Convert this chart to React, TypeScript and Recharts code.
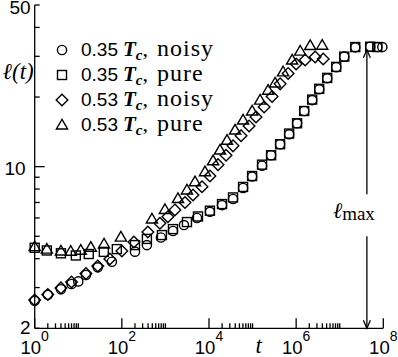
import React from 'react';
import {
  ScatterChart,
  Scatter,
  XAxis,
  YAxis,
  Legend,
  Label,
  ReferenceLine,
  ReferenceDot,
} from 'recharts';

const SANS = '"Liberation Sans", Arial, Helvetica, sans-serif';
const SERIF = '"Liberation Serif", "Times New Roman", serif';

// 0.35 Tc, noisy (circles)
const noisy035T = [1, 2, 4, 7, 10, 15, 28, 59, 200, 376, 788, 1490, 2660, 5300, 10500, 19900, 35600, 60500, 97500, 165000, 266000, 428000, 690000, 1.05e6, 1.53e6, 2.33e6, 3.38e6, 5.16e6, 8.31e6, 1.27e7, 2.27e7, 5.0e7, 7.3e7, 9.5e7];
const noisy035L = [2.63, 2.79, 2.95, 3.11, 3.19, 3.4, 3.67, 3.88, 4.29, 4.58, 4.94, 5.27, 5.59, 6.0, 6.38, 6.82, 7.25, 8.09, 9.06, 10.1, 11.2, 12.5, 13.8, 15.4, 17.4, 19.4, 21.6, 24.1, 26.9, 29.9, 32.8, 33.0, 32.9, 32.9];

// 0.35 Tc, pure (squares)
const pure035T = [1, 1.9, 4, 8.8, 17.4, 38.6, 76.7, 200, 376, 831, 1490, 3120, 5590, 10500, 19900, 35600, 60500, 97500, 165000, 266000, 428000, 690000, 1.05e6, 1.53e6, 2.33e6, 3.38e6, 5.16e6, 8.31e6, 1.27e7, 2.27e7, 5.0e7, 7.3e7];
const pure035L = [4.46, 4.34, 4.22, 4.13, 4.19, 4.28, 4.4, 4.58, 4.87, 5.06, 5.37, 5.76, 6.09, 6.45, 6.89, 7.36, 8.17, 9.11, 10.2, 11.2, 12.5, 13.9, 15.4, 17.4, 19.5, 21.7, 24.2, 27.0, 29.9, 32.9, 33.0, 32.9];

// 0.53 Tc, noisy (diamonds)
const noisy053T = [1, 2, 4, 7, 15, 28, 53, 100, 189, 396, 748, 1140, 1650, 2810, 4290, 6910, 10500, 16100, 24600, 35600, 54400, 83100, 120000, 184000, 281000, 429000, 655000, 1.0e6, 1.61e6, 2.73e6, 4.18e6];
const noisy053L = [2.65, 2.8, 2.99, 3.17, 3.45, 3.72, 3.99, 4.32, 4.72, 5.22, 5.69, 6.07, 6.5, 7.0, 7.54, 8.19, 9.11, 10.2, 11.2, 12.3, 13.6, 15.0, 16.4, 18.1, 20.1, 22.8, 25.3, 27.8, 28.9, 29.8, 29.2];

// 0.53 Tc, pure (triangles)
const pure053T = [1, 1.9, 4, 6.7, 11.4, 19.4, 39, 95, 490, 974, 1940, 3120, 4770, 8090, 12400, 17900, 25900, 39600, 60500, 97500, 149000, 227000, 329000, 502000, 809000, 1.24e6, 2.1e6, 3.96e6];
const pure053L = [4.51, 4.4, 4.32, 4.31, 4.35, 4.48, 4.63, 4.96, 5.94, 6.53, 7.28, 7.93, 8.61, 9.51, 10.6, 11.8, 13.0, 14.4, 15.9, 17.4, 19.4, 21.4, 23.0, 25.7, 28.9, 31.6, 33.4, 33.5];

const SERIES_TEMPS = ['0.35', '0.35', '0.53', '0.53'];
const SERIES_KINDS = ['noisy', 'pure', 'noisy', 'pure'];
const SERIES_MARKS = ['circle', 'square', 'diamond', 'triangle'];

const X_TICKS = [
  1, 2, 3, 4, 5, 6, 7, 8, 9, 10,
  100, 200, 300, 400, 500, 600, 700, 800, 900, 1000,
  1e4, 2e4, 3e4, 4e4, 5e4, 6e4, 7e4, 8e4, 9e4, 1e5,
  1e6, 2e6, 3e6, 4e6, 5e6, 6e6, 7e6, 8e6, 9e6, 1e7,
  1e8,
];
const X_LABELS = [1, 1e2, 1e4, 1e6, 1e8];
const Y_TICKS = [2, 3, 4, 5, 6, 7, 8, 9, 10, 20, 30, 40, 50];
const Y_LABELS = [2, 10, 50];

const L_MAX = 32;
const L_MAX_T = 4.2e7;

const toPoints = (t: number[], l: number[]) => t.map((v, i) => ({ t: v, l: l[i] }));

const MARK_STYLE = { fill: 'none', stroke: '#000', strokeWidth: 1.4 };

function Mark({ kind, cx, cy }: { kind: string; cx: number; cy: number }) {
  if (kind === 'circle') return <circle cx={cx} cy={cy} r={4.6} {...MARK_STYLE} />;
  if (kind === 'square') return <rect x={cx - 4.5} y={cy - 4.5} width={9} height={9} {...MARK_STYLE} />;
  if (kind === 'diamond')
    return <path d={`M${cx},${cy - 5.8}L${cx + 5.8},${cy}L${cx},${cy + 5.8}L${cx - 5.8},${cy}Z`} {...MARK_STYLE} />;
  return <path d={`M${cx},${cy - 5.6}L${cx + 5.6},${cy + 4}L${cx - 5.6},${cy + 4}Z`} {...MARK_STYLE} />;
}

const markShape = (kind: string) => (p: any) => <Mark kind={kind} cx={p.cx} cy={p.cy} />;

function BottomTick({ x, y, payload }: any) {
  const v = payload.value;
  const big = X_LABELS.includes(v);
  return (
    <g>
      <line x1={x} x2={x} y1={y} y2={y - (big ? 10 : 5)} stroke="#000" strokeWidth={1.3} />
      {big && (
        <text x={x} y={y + 26} textAnchor="middle" fontFamily={SANS} fontSize={18.5} fill="#000">
          10
          <tspan dy={-13} fontSize={14}>{Math.round(Math.log10(v))}</tspan>
        </text>
      )}
    </g>
  );
}

function TopTick({ x, y, payload }: any) {
  const big = X_LABELS.includes(payload.value);
  return <line x1={x} x2={x} y1={y} y2={y + (big ? 10 : 5)} stroke="#000" strokeWidth={1.3} />;
}

function LeftTick({ x, y, payload }: any) {
  const v = payload.value;
  const dy = v === 2 ? 6 : v === 50 ? 9 : 8;
  return (
    <g>
      <line x1={x} x2={x + (v === 10 ? 10 : 5)} y1={y} y2={y} stroke="#000" strokeWidth={1.3} />
      {Y_LABELS.includes(v) && (
        <text x={x - (v === 10 ? 9 : 4)} y={y + dy} textAnchor="end" fontFamily={SANS} fontSize={19} fill="#000">
          {v}
        </text>
      )}
    </g>
  );
}

function RightTick({ x, y, payload }: any) {
  const v = payload.value;
  return <line x1={x} x2={x - (v === 10 ? 10 : 5)} y1={y} y2={y} stroke="#000" strokeWidth={1.3} />;
}

const arrowUp = (p: any) => {
  const top = Math.min(p.y1, p.y2);
  const bot = Math.max(p.y1, p.y2);
  return (
    <g stroke="#000" strokeWidth={1.3} fill="none">
      <line x1={p.x1} x2={p.x1} y1={top} y2={bot} />
      <path d={`M${p.x1 - 3.5},${top + 8}L${p.x1},${top}L${p.x1 + 3.5},${top + 8}`} />
    </g>
  );
};

const arrowDown = (p: any) => {
  const top = Math.min(p.y1, p.y2);
  const bot = Math.max(p.y1, p.y2);
  return (
    <g stroke="#000" strokeWidth={1.3} fill="none">
      <line x1={p.x1} x2={p.x1} y1={top} y2={bot} />
      <path d={`M${p.x1 - 3.5},${bot - 8}L${p.x1},${bot}L${p.x1 + 3.5},${bot - 8}`} />
    </g>
  );
};

function LegendBox() {
  return (
    <svg width={240} height={140} style={{ display: 'block' }}>
      {SERIES_TEMPS.map((temp, i) => {
        const cy = 50 + i * 25;
        return (
          <g key={i}>
            <Mark kind={SERIES_MARKS[i]} cx={62} cy={cy} />
            <text y={cy + 5.5} fontFamily={SANS} fontSize={19} fill="#000">
              <tspan x={81}>{temp}</tspan>
              <tspan x={123} fontFamily={SERIF} fontStyle="italic" fontWeight="bold" fontSize={21}>T</tspan>
              <tspan dy={4} fontFamily={SERIF} fontStyle="italic" fontWeight="bold" fontSize={15}>c</tspan>
              <tspan dy={-4} fontFamily={SERIF} fontSize={22}>,</tspan>
              <tspan x={157} fontFamily={SERIF} fontSize={24} letterSpacing={1}>{SERIES_KINDS[i]}</tspan>
            </text>
          </g>
        );
      })}
    </svg>
  );
}

export default function App() {
  const series = [
    toPoints(noisy035T, noisy035L),
    toPoints(pure035T, pure035L),
    toPoints(noisy053T, noisy053L),
    toPoints(pure053T, pure053L),
  ];

  return (
    <div style={{ position: 'absolute', left: 0, top: 0, background: '#fff' }}>
      <ScatterChart width={398} height={357} margin={{ top: 5, right: 14.7, bottom: 0, left: 0 }}>
        <XAxis
          dataKey="t"
          type="number"
          scale="log"
          domain={[1, 1e8]}
          ticks={X_TICKS}
          interval={0}
          height={28.7}
          tickSize={0}
          tickMargin={0}
          tickLine={false}
          axisLine={{ stroke: '#000', strokeWidth: 1.3 }}
          tick={BottomTick}
        >
          <Label
            content={(p: any) => {
              const vb = p.viewBox || { x: 34.7, y: 328.3 };
              return (
                <text x={vb.x + 224} y={vb.y + 25} textAnchor="middle" fontFamily={SERIF} fontStyle="italic" fontSize={23} fill="#000">
                  t
                </text>
              );
            }}
          />
        </XAxis>
        <XAxis
          xAxisId="top"
          orientation="top"
          dataKey="t"
          type="number"
          scale="log"
          domain={[1, 1e8]}
          allowDataOverflow
          ticks={X_TICKS}
          interval={0}
          height={0}
          tickSize={0}
          tickMargin={0}
          tickLine={false}
          axisLine={{ stroke: '#000', strokeWidth: 1.3 }}
          tick={TopTick}
        />
        <YAxis
          dataKey="l"
          type="number"
          scale="log"
          domain={[2, 50]}
          ticks={Y_TICKS}
          interval={0}
          width={34.7}
          tickSize={0}
          tickMargin={0}
          tickLine={false}
          axisLine={{ stroke: '#000', strokeWidth: 1.3 }}
          tick={LeftTick}
        >
          <Label
            content={(p: any) => {
              const vb = p.viewBox || { x: 0, y: 5, width: 34.7 };
              return (
                <text x={vb.x + vb.width - 1} y={vb.y + 74} textAnchor="end" fontFamily={SERIF} fontStyle="italic" fontSize={23} fill="#000">
                  ℓ(t)
                </text>
              );
            }}
          />
        </YAxis>
        <YAxis
          yAxisId="right"
          orientation="right"
          dataKey="l"
          type="number"
          scale="log"
          domain={[2, 50]}
          allowDataOverflow
          ticks={Y_TICKS}
          interval={0}
          width={0}
          tickSize={0}
          tickMargin={0}
          tickLine={false}
          axisLine={{ stroke: '#000', strokeWidth: 1.3 }}
          tick={RightTick}
        />
        {series.map((data, i) => (
          <Scatter
            key={i}
            name={`${SERIES_TEMPS[i]} Tc, ${SERIES_KINDS[i]}`}
            data={data}
            shape={markShape(SERIES_MARKS[i])}
            isAnimationActive={false}
          />
        ))}
        <ReferenceLine segment={[{ x: L_MAX_T, y: L_MAX }, { x: L_MAX_T, y: 7.6 }]} shape={arrowUp} />
        <ReferenceLine segment={[{ x: L_MAX_T, y: 5 }, { x: L_MAX_T, y: 2 }]} shape={arrowDown} />
        <ReferenceDot
          x={L_MAX_T}
          y={6}
          r={0}
          shape={(p: any) => (
            <text x={p.cx + 8} y={p.cy + 0.5} textAnchor="end" fontFamily={SERIF} fill="#000">
              <tspan fontStyle="italic" fontSize={22}>ℓ</tspan>
              <tspan fontSize={19} dy={2}>max</tspan>
            </text>
          )}
        />
        <Legend
          layout="vertical"
          align="center"
          verticalAlign="middle"
          wrapperStyle={{ top: 0, left: 0, width: 240, height: 140 }}
          content={() => <LegendBox />}
        />
      </ScatterChart>
    </div>
  );
}
